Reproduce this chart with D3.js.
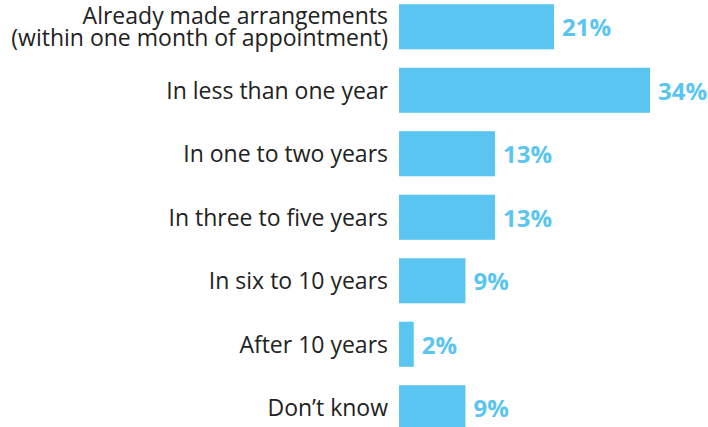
<!DOCTYPE html>
<html>
<head>
<meta charset="utf-8">
<script src="https://cdn.jsdelivr.net/npm/d3@7"></script>
<style>
  html, body { margin: 0; padding: 0; background: #ffffff; }
  svg { display: block; }
</style>
</head>
<body>
<svg id="chart" width="708" height="427"></svg>
<script>
// Survey answers: when arrangements were / will be made
const categories = [
  ["Already made arrangements", "(within one month of appointment)"],
  ["In less than one year"],
  ["In one to two years"],
  ["In three to five years"],
  ["In six to 10 years"],
  ["After 10 years"],
  ["Don\u2019t know"]
];
const values = [21, 34, 13, 13, 9, 2, 9];
const valueLabels = ["21%", "34%", "13%", "13%", "9%", "2%", "9%"];

const barColor = "#5bc5f2";
const textColor = "#222222";

const svg = d3.select("#chart");
const x0 = 399;

const x = d3.scaleLinear().domain([0, 34]).range([x0, 650]);
const y = d3.scaleBand()
  .domain(d3.range(values.length))
  .range([-5, 439.5])
  .paddingInner(0.29)
  .paddingOuter(0.145);

const rows = svg.selectAll("g.row")
  .data(values)
  .join("g")
  .attr("class", "row");

rows.append("rect")
  .attr("x", x(0))
  .attr("y", (d, i) => y(i))
  .attr("width", d => x(d) - x(0))
  .attr("height", y.bandwidth())
  .attr("fill", barColor);

rows.append("text")
  .attr("x", d => x(d) + 8)
  .attr("y", (d, i) => y(i) + y.bandwidth() / 2 + 1)
  .attr("dy", "0.36em")
  .attr("font-family", "'Open Sans', sans-serif")
  .attr("font-weight", 700)
  .attr("font-size", 24)
  .attr("fill", barColor)
  .text((d, i) => valueLabels[i]);

// Category labels, right-aligned against the bars; multi-line labels are stacked tightly
const lineGap = 22;
const cat = rows.append("text")
  .attr("text-anchor", "end")
  .attr("font-family", "'Open Sans', sans-serif")
  .attr("font-size", 23)
  .attr("fill", textColor);

cat.selectAll("tspan")
  .data((d, i) => categories[i].map((line, k, arr) => ({ line, k, n: arr.length, i })))
  .join("tspan")
  .attr("x", x0 - 11)
  .attr("y", t => y(t.i) + y.bandwidth() / 2 + (t.n > 1 ? -0.5 : 0) + (t.k - (t.n - 1) / 2) * lineGap)
  .attr("dy", "0.36em")
  .text(t => t.line);
</script>
</body>
</html>
